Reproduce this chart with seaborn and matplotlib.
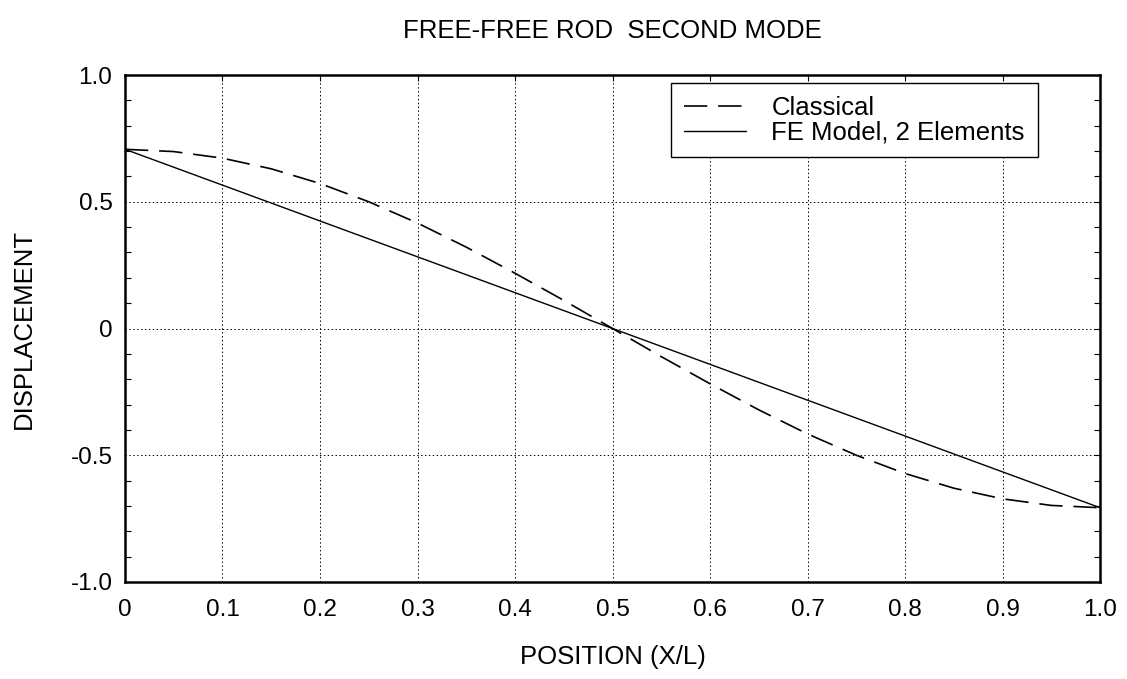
import matplotlib
matplotlib.use("Agg")
import matplotlib.pyplot as plt
import seaborn as sns
import pandas as pd
import numpy as np

# Mode shape values
position = [0.0, 0.05, 0.1, 0.15, 0.2, 0.25, 0.3, 0.35, 0.4, 0.45, 0.5,
            0.55, 0.6, 0.65, 0.7, 0.75, 0.8, 0.85, 0.9, 0.95, 1.0]
classical = [0.707, 0.698, 0.672, 0.630, 0.572, 0.500, 0.416, 0.321, 0.218, 0.111, 0.0,
             -0.111, -0.218, -0.321, -0.416, -0.500, -0.572, -0.630, -0.672, -0.698, -0.707]
fe_nodes = [0.0, 0.5, 1.0]
fe_values = [0.707, 0.0, -0.707]
x_ticklabels = ["0", "0.1", "0.2", "0.3", "0.4", "0.5", "0.6", "0.7", "0.8", "0.9", "1.0"]
y_ticklabels = ["-1.0", "-0.5", "0", "0.5", "1.0"]

df_classical = pd.DataFrame({"x": position, "y": classical})
df_fe = pd.DataFrame({"x": fe_nodes, "y": fe_values})

sns.set_style("white")
plt.rcParams["font.family"] = ["Liberation Sans", "DejaVu Sans"]
# pure black text like the reference (seaborn defaults to dark grey)
plt.rcParams["text.color"] = "black"
plt.rcParams["axes.labelcolor"] = "black"
plt.rcParams["xtick.color"] = "black"
plt.rcParams["ytick.color"] = "black"

fig = plt.figure(figsize=(11.27, 6.79), dpi=100)
ax = fig.add_axes([0.1109, 0.1429, 0.8652, 0.7466])

sns.lineplot(data=df_classical, x="x", y="y", ax=ax, color="black", linewidth=1.2,
             label="Classical")
ax.lines[-1].set_dashes([14, 6.5])
sns.lineplot(data=df_fe, x="x", y="y", ax=ax, color="black", linewidth=1.0,
             label="FE Model, 2 Elements")

ax.set_xlim(0, 1)
ax.set_ylim(-1, 1)
ax.set_xticks(np.arange(0, 1.01, 0.1))
ax.set_xticklabels(x_ticklabels)
ax.set_yticks([-1, -0.5, 0, 0.5, 1])
ax.set_yticklabels(y_ticklabels)
ax.set_yticks(np.arange(-1, 1.01, 0.1), minor=True)

ax.grid(True, which="major", color="black", linestyle=(0, (1.5, 2.5)), linewidth=0.7)
ax.tick_params(axis="both", which="major", direction="in", length=4, width=0.8,
               top=True, right=True, labelsize=17.5, color="black", labelcolor="black")
ax.tick_params(axis="x", which="major", pad=12)
ax.tick_params(axis="y", which="major", pad=9)
ax.tick_params(axis="y", which="minor", direction="in", length=4, width=0.8,
               left=True, right=True, color="black")
for s in ax.spines.values():
    s.set_visible(True)
    s.set_color("black")
    s.set_linewidth(1.8)

ax.set_xlabel("POSITION (X/L)", fontsize=18.5, color="black")
ax.xaxis.set_label_coords(0.5, -0.124)
ax.set_ylabel("DISPLACEMENT", fontsize=18.5, color="black")
ax.yaxis.set_label_coords(-0.091, 0.5)
ax.set_title("FREE-FREE ROD  SECOND MODE", fontsize=18.5, pad=27, color="black")

ax.get_legend().remove()
h, l = ax.get_legend_handles_labels()
leg = ax.legend(h, l, loc="upper right", bbox_to_anchor=(0.936, 0.984), fontsize=18.5,
                frameon=True, fancybox=False, framealpha=1, edgecolor="black",
                borderpad=0.5, handlelength=2.4, handletextpad=1.0,
                labelspacing=0.02, borderaxespad=0, labelcolor="black")
leg.get_frame().set_linewidth(1.0)

plt.savefig("out.png", dpi=100)
